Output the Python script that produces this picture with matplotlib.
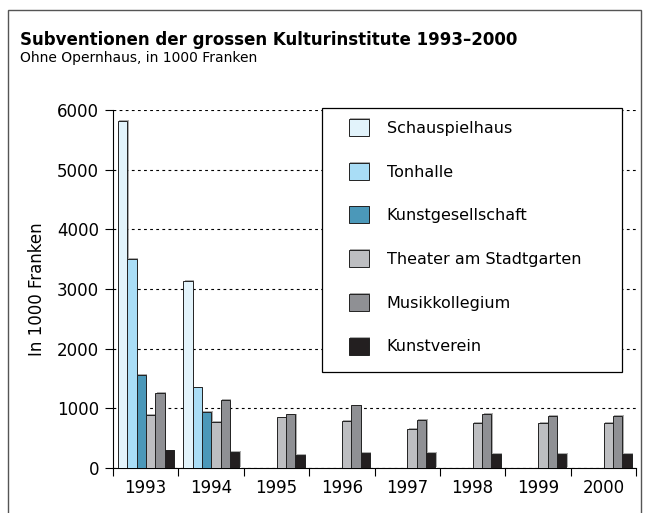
import numpy as np
import matplotlib
matplotlib.use("Agg")
import matplotlib.pyplot as plt
import matplotlib.patheffects as pe
from matplotlib.patches import Rectangle

# Data (in 1000 Franken)
years = ["1993", "1994", "1995", "1996", "1997", "1998", "1999", "2000"]
series_names = ["Schauspielhaus", "Tonhalle", "Kunstgesellschaft",
                "Theater am Stadtgarten", "Musikkollegium", "Kunstverein"]
schauspielhaus = [5820, 3140, 0, 0, 0, 0, 0, 0]
tonhalle = [3510, 1350, 0, 0, 0, 0, 0, 0]
kunstgesellschaft = [1560, 945, 0, 0, 0, 0, 0, 0]
theater_stadtgarten = [885, 775, 848, 795, 660, 760, 760, 760]
musikkollegium = [1265, 1135, 897, 1050, 800, 900, 878, 878]
kunstverein = [296, 268, 215, 258, 255, 238, 238, 238]

colors = ["#e2f3fb", "#a9ddf6", "#4b98b9", "#bdbec1", "#8f9094", "#231f20"]

plt.rcParams["font.family"] = ["DejaVu Sans"]

W, H = 645, 513
fig = plt.figure(figsize=(W / 100, H / 100), dpi=100)

# outer frame
fig.patches.append(Rectangle((8 / W, -0.05), (641 - 8) / W, 1.05 - 10 / H,
                             transform=fig.transFigure, fill=False,
                             edgecolor="#555555", linewidth=1.0))

fig.text(20 / W, 1 - 45 / H, "Subventionen der grossen Kulturinstitute 1993\u20132000",
         fontsize=12, fontweight="bold", ha="left", va="baseline")
fig.text(20 / W, 1 - 62 / H, "Ohne Opernhaus, in 1000 Franken",
         fontsize=10, ha="left", va="baseline")

ax = fig.add_axes([113 / W, 1 - 468 / H, (636 - 113) / W, (468 - 110) / H])

data = [schauspielhaus, tonhalle, kunstgesellschaft,
        theater_stadtgarten, musikkollegium, kunstverein]
x = np.arange(len(years))
bw = 0.1425
start = 0.077
shadow = [pe.SimplePatchShadow(offset=(1.0, 0.6), shadow_rgbFace="#888888", alpha=0.7),
          pe.Normal()]
handles = []
for j, (vals, name, c) in enumerate(zip(data, series_names, colors)):
    b = ax.bar(x + start + (j + 0.5) * bw, vals, width=bw, color=c,
               edgecolor="#222222", linewidth=0.7, label=name, zorder=3)
    for p in b:
        p.set_path_effects(shadow)
    handles.append(b)

ax.set_xlim(0, len(years))
ax.set_ylim(0, 6000)
ax.set_yticks(np.arange(0, 6001, 1000))
ax.tick_params(axis="y", direction="out", length=6, width=0.8, labelsize=12, pad=4)
ax.set_xticks(np.arange(0, len(years) + 1))
ax.set_xticklabels([])
ax.set_xticks(x + 0.5, minor=True)
ax.set_xticklabels(years, minor=True)
ax.tick_params(axis="x", which="major", direction="out", length=6, width=0.8)
ax.tick_params(axis="x", which="minor", length=0, labelsize=12, pad=8)

ax.yaxis.grid(True, linestyle=(0, (2.5, 3)), color="black", linewidth=0.8, zorder=0)
ax.set_axisbelow(True)
for s in ["top", "right"]:
    ax.spines[s].set_visible(False)
for s in ["left", "bottom"]:
    ax.spines[s].set_linewidth(0.8)
ax.set_ylabel("In 1000 Franken", fontsize=12, labelpad=8)

# legend box, drawn inside the axes so the legend sits on top of it
box = Rectangle((322 / W, 1 - 372 / H), 300 / W, (372 - 108) / H,
                transform=fig.transFigure, facecolor="white",
                edgecolor="black", linewidth=0.9, zorder=5, clip_on=False)
ax.add_patch(box)
leg = ax.legend(handles=handles, loc="upper left",
                bbox_to_anchor=(349 / W, 1 - 119 / H), bbox_transform=fig.transFigure,
                frameon=False, fontsize=11.5, handlelength=1.25, handleheight=1.25,
                handletextpad=1.1, labelspacing=1.68, borderpad=0, borderaxespad=0)
leg.set_zorder(6)

fig.savefig("out.png", dpi=100)
